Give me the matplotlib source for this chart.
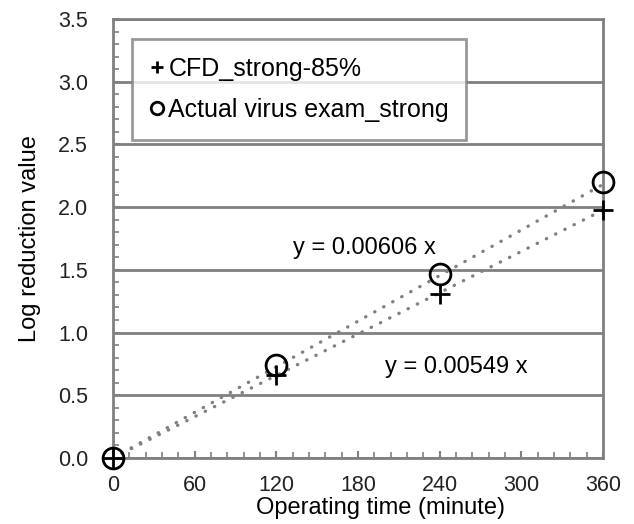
import matplotlib
matplotlib.use("Agg")
import matplotlib.pyplot as plt
import numpy as np
from matplotlib.ticker import MultipleLocator

plt.rcParams['font.family'] = ['Liberation Sans', 'DejaVu Sans']

# data
time_min = [0, 120, 240, 360]
cfd_strong = [0.0, 0.66, 1.31, 1.98]
actual_strong = [0.0, 0.74, 1.47, 2.20]
slope_cfd = 0.00549
slope_actual = 0.00606

grey = '#808080'

fig = plt.figure(figsize=(6.34, 5.24), dpi=100)
ax = fig.add_axes([113 / 634, 1 - 458 / 524, 490 / 634, 439 / 524])

# linear trendlines through origin (dotted)
tx = np.array([0, 360])
ax.plot(tx, slope_actual * tx, color=grey, lw=2.4, linestyle=(0, (0.1, 3.0)),
        dash_capstyle='round', zorder=2)
ax.plot(tx, slope_cfd * tx, color=grey, lw=2.4, linestyle=(0, (0.1, 3.0)),
        dash_capstyle='round', zorder=2)

ax.plot(time_min, cfd_strong, linestyle='none', marker='+', ms=15, mew=2,
        color='black', label='CFD_strong-85%', zorder=4, clip_on=False)
ax.plot(time_min, actual_strong, linestyle='none', marker='o', ms=15, mew=2,
        mfc='none', mec='black', label='Actual virus exam_strong', zorder=4,
        clip_on=False)

ax.text(132, 1.675, 'y = 0.00606 x', fontsize=17, va='center', ha='left')
ax.text(200, 0.726, 'y = 0.00549 x', fontsize=17, va='center', ha='left')

ax.set_xlim(0, 360)
ax.set_ylim(0, 3.5)
ax.xaxis.set_major_locator(MultipleLocator(60))
ax.xaxis.set_minor_locator(MultipleLocator(12))
ax.yaxis.set_major_locator(MultipleLocator(0.5))
ax.yaxis.set_minor_locator(MultipleLocator(0.1))
ax.yaxis.set_major_formatter(matplotlib.ticker.FormatStrFormatter('%.1f'))

ax.grid(axis='y', color=grey, lw=2, zorder=1)
ax.set_axisbelow(True)
for s in ax.spines.values():
    s.set_color(grey)
    s.set_linewidth(2)

ax.tick_params(which='both', direction='in', color=grey, labelsize=15.5,
               labelcolor='#222222')
ax.tick_params(which='major', length=5, width=1.5)
ax.tick_params(which='minor', length=4, width=1.2)
ax.tick_params(axis='x', which='major', pad=12)
ax.tick_params(axis='y', which='major', pad=18)

ax.set_xlabel('Operating time (minute)', fontsize=17, labelpad=1)
ax.xaxis.label.set_x(0.545)
ax.set_ylabel('Log reduction value', fontsize=17, labelpad=12)

leg = ax.legend(loc='upper left', bbox_to_anchor=(0.039, 0.954), fontsize=18,
                frameon=True, fancybox=False, borderaxespad=0,
                handlelength=0.6, handletextpad=0.15, markerscale=0.6,
                labelspacing=0.7, borderpad=0.7)
leg.get_frame().set_edgecolor(grey)
leg.get_frame().set_linewidth(2)
leg.set_zorder(5)

fig.savefig('out.png', dpi=100)
